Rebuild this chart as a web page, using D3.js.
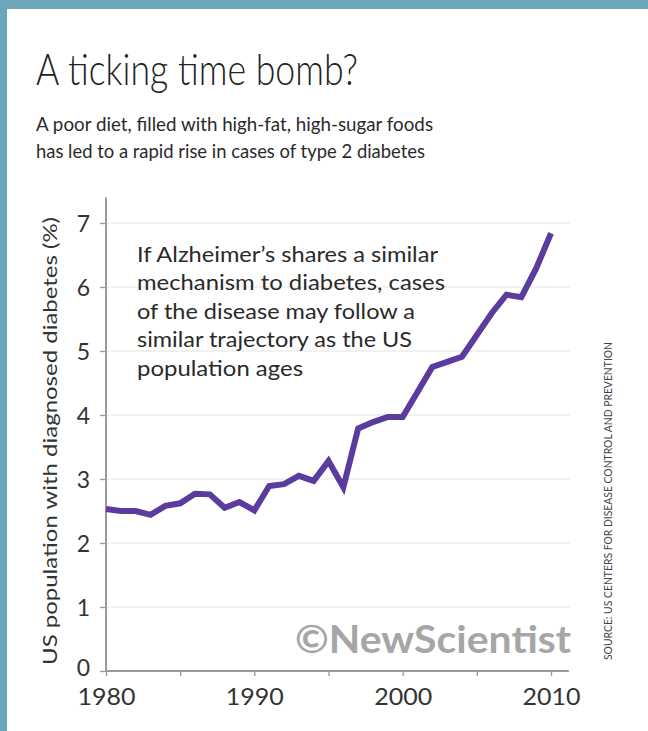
<!DOCTYPE html>
<html>
<head>
<meta charset="utf-8">
<script src="https://cdn.jsdelivr.net/npm/d3@7"></script>
<style>
  html, body { margin: 0; padding: 0; background: #fff; }
  svg { display: block; }
  text { font-family: Lato, "Open Sans", sans-serif; }
</style>
</head>
<body>
<svg id="chart" width="648" height="731"></svg>
<script>
// ---- Data ----
const years = [1980,1981,1982,1983,1984,1985,1986,1987,1988,1989,1990,1991,1992,1993,1994,1995,1996,1997,1998,1999,2000,2001,2002,2003,2004,2005,2006,2007,2008,2009,2010];
const diabetesPct = [2.53,2.50,2.50,2.44,2.58,2.62,2.77,2.76,2.55,2.64,2.51,2.89,2.92,3.05,2.97,3.28,2.87,3.79,3.89,3.97,3.97,4.36,4.75,4.83,4.91,5.25,5.59,5.88,5.84,6.29,6.84];
const yTicks = [0,1,2,3,4,5,6,7];
const xTicks = [1980,1985,1990,1995,2000,2005,2010];
const xLabels = [1980,1990,2000,2010];

const titleText = "A ticking time bomb?";
const subtitleLines = ["A poor diet, filled with high-fat, high-sugar foods", "has led to a rapid rise in cases of type 2 diabetes"];
const noteLines = ["If Alzheimer\u2019s shares a similar", "mechanism to diabetes, cases", "of the disease may follow a", "similar trajectory as the US", "population ages"];
const yAxisTitle = "US population with diagnosed diabetes (%)";
const sourceText = "SOURCE: US CENTERS FOR DISEASE CONTROL AND PREVENTION";
const watermark = "\u00A9NewScientist";

// ---- Layout ----
const svg = d3.select("#chart");
const W = 648, H = 731;

// frame border (top and left band)
svg.append("rect").attr("x", 0).attr("y", 0).attr("width", W).attr("height", 9).attr("fill", "#6aa7bb");
svg.append("rect").attr("x", 0).attr("y", 0).attr("width", 7).attr("height", H).attr("fill", "#6aa7bb");

const x = d3.scaleLinear().domain([1980, 2010]).range([106, 551]);
const y = d3.scaleLinear().domain([0, 7]).range([671, 223]);

// Title
svg.append("text").attr("x", 36).attr("y", 85)
  .attr("font-size", 44).attr("font-weight", 300).attr("fill", "#222")
  .attr("textLength", 322).attr("lengthAdjust", "spacingAndGlyphs")
  .text(titleText);

const subW = [397, 389];
subtitleLines.forEach((s, i) => {
  svg.append("text").attr("x", 36).attr("y", 131 + i * 27)
    .attr("font-size", 20).attr("fill", "#2a2a2a")
    .attr("textLength", subW[i]).attr("lengthAdjust", "spacingAndGlyphs")
    .text(s);
});

// gridlines
svg.append("g").selectAll("line").data(yTicks.filter(d => d > 0)).join("line")
  .attr("x1", x(1980)).attr("x2", 570)
  .attr("y1", d => y(d)).attr("y2", d => y(d))
  .attr("stroke", "#e4e4e4").attr("stroke-width", 1);

// y axis
const yAxis = svg.append("g").attr("transform", `translate(${x(1980)},0)`)
  .call(d3.axisLeft(y).tickValues(yTicks).tickSize(6).tickPadding(10).tickFormat(d3.format("d")));
yAxis.select(".domain").remove();
yAxis.selectAll(".tick line").attr("stroke", "#999").attr("stroke-width", 1.3);
yAxis.selectAll(".tick text").attr("font-size", 23).attr("fill", "#333")
  .attr("font-family", "Lato, sans-serif")
  .attr("dy", d => d === 0 ? "0.2em" : "0.36em");
svg.append("line").attr("x1", x(1980)).attr("x2", x(1980))
  .attr("y1", y(7.4)).attr("y2", y(0))
  .attr("stroke", "#999").attr("stroke-width", 2);

// x axis
const xAxis = svg.append("g").attr("transform", `translate(0,${y(0)})`)
  .call(d3.axisBottom(x).tickValues(xTicks).tickSize(5).tickPadding(13)
    .tickFormat(d => xLabels.includes(d) ? String(d) : ""));
xAxis.select(".domain").remove();
xAxis.selectAll(".tick line").attr("stroke", "#999").attr("stroke-width", 1.3);
xAxis.selectAll(".tick text").attr("font-size", 23).attr("fill", "#333")
  .attr("font-family", "Lato, sans-serif")
  .attr("textLength", 58).attr("lengthAdjust", "spacingAndGlyphs");
svg.append("line").attr("x1", x(1980)).attr("x2", x(2011.2))
  .attr("y1", y(0)).attr("y2", y(0))
  .attr("stroke", "#999").attr("stroke-width", 2);

// y axis title
svg.append("text")
  .attr("transform", `translate(57,${441}) rotate(-90)`)
  .attr("text-anchor", "middle").attr("font-size", 20).attr("fill", "#333")
  .attr("textLength", 448).attr("lengthAdjust", "spacingAndGlyphs")
  .text(yAxisTitle);

// watermark
svg.append("text").attr("x", 295).attr("y", 653)
  .attr("font-size", 38).attr("font-weight", 700).attr("fill", "#a6a6a6")
  .attr("textLength", 276).attr("lengthAdjust", "spacingAndGlyphs")
  .text(watermark);

// annotation
const noteW = [301, 308, 278, 275, 166];
noteLines.forEach((s, i) => {
  svg.append("text").attr("x", 137).attr("y", 262 + i * 28.4)
    .attr("font-size", 22).attr("fill", "#2a2a2a")
    .attr("textLength", noteW[i]).attr("lengthAdjust", "spacingAndGlyphs")
    .text(s);
});

// source
svg.append("text")
  .attr("transform", `translate(612,660) rotate(-90)`)
  .attr("font-size", 12).attr("fill", "#444")
  .attr("textLength", 318).attr("lengthAdjust", "spacingAndGlyphs")
  .text(sourceText);

// line
const line = d3.line().x((d, i) => x(years[i])).y(d => y(d));
svg.append("path").datum(diabetesPct)
  .attr("d", line)
  .attr("fill", "none").attr("stroke", "#5b3b9e").attr("stroke-width", 6)
  .attr("stroke-linejoin", "miter").attr("stroke-linecap", "butt");
</script>
</body>
</html>
